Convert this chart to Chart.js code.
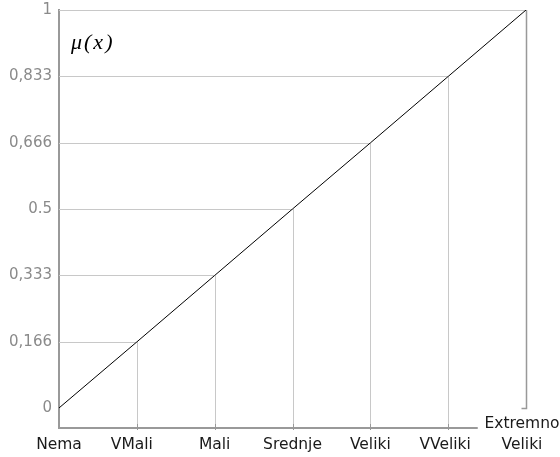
<!DOCTYPE html>
<html>
<head>
<meta charset="utf-8">
<script src="https://cdn.jsdelivr.net/npm/chart.js@4"></script>
<style>
html,body{margin:0;padding:0;background:#fff;}
#wrap{width:560px;height:457px;}
</style>
</head>
<body>
<div id="wrap"><canvas id="c" width="560" height="457"></canvas></div>
<script>
const categories = ["Nema", "VMali", "Mali", "Srednje", "Veliki", "VVeliki", ["Extremno", "Veliki"]];
const membership = [0, 0.166, 0.333, 0.5, 0.666, 0.833, 1];
const yTickValues = [0, 0.166, 0.333, 0.5, 0.666, 0.833, 1];
const yTickLabels = ["0", "0,166", "0,333", "0.5", "0,666", "0,833", "1"];
const yAxisTitle = "\u03BC(x)";

const points = membership.map((v, i) => ({x: i, y: v}));

const dropLines = {
  id: 'dropLines',
  beforeDatasetsDraw(chart) {
    const ctx = chart.ctx, xs = chart.scales.x, ys = chart.scales.y, ca = chart.chartArea;
    const last = membership.length - 1;
    ctx.save();
    ctx.strokeStyle = '#c8c8c8';
    ctx.lineWidth = 1;
    membership.forEach((v, i) => {
      if (i === 0) return;
      const px = Math.round(xs.getPixelForValue(i)), py = Math.round(ys.getPixelForValue(v)) + 0.5;
      ctx.beginPath(); ctx.moveTo(ca.left, py); ctx.lineTo(px, py); ctx.stroke();
    });
    membership.forEach((v, i) => {
      if (i === 0 || i === last) return;
      const px = Math.round(xs.getPixelForValue(i)) + 0.5, py = ys.getPixelForValue(v);
      ctx.strokeStyle = '#c8c8c8';
      ctx.beginPath(); ctx.moveTo(px, ca.bottom); ctx.lineTo(px, py); ctx.stroke();
      ctx.strokeStyle = '#999';
      ctx.beginPath(); ctx.moveTo(px, ca.bottom - 4); ctx.lineTo(px, ca.bottom + 2); ctx.stroke();
    });
    const lx = Math.round(xs.getPixelForValue(last)) + 0.5;
    const y0 = Math.round(ys.getPixelForValue(0)) + 0.5;
    ctx.strokeStyle = '#999';
    ctx.lineWidth = 1.5;
    ctx.beginPath(); ctx.moveTo(lx, ys.getPixelForValue(membership[last])); ctx.lineTo(lx, y0); ctx.lineTo(lx - 5, y0); ctx.stroke();
    ctx.lineWidth = 2;
    ctx.beginPath(); ctx.moveTo(ca.left, ca.bottom); ctx.lineTo(xs.getPixelForValue(5.38), ca.bottom); ctx.stroke();
    ctx.restore();
  },
  afterDraw(chart) {
    const ctx = chart.ctx, xs = chart.scales.x, ca = chart.chartArea;
    ctx.save();
    ctx.fillStyle = '#1a1a1a';
    ctx.font = '15.5px "DejaVu Sans"';
    ctx.textAlign = 'center';
    ctx.textBaseline = 'middle';
    categories.forEach((c, i) => {
      let px = xs.getPixelForValue(i);
      if (Array.isArray(c)) {
        px -= 4;
        ctx.fillText(c[0], px, ca.bottom - 4);
        ctx.fillText(c[1], px, ca.bottom + 17);
      } else {
        if (i === 1) px -= 5;
        if (i === 5) px -= 3;
        ctx.fillText(c, px, ca.bottom + 17);
      }
    });
    ctx.fillStyle = '#000';
    ctx.font = 'italic 22px "Liberation Serif"';
    ctx.textAlign = 'left';
    try { ctx.letterSpacing = '2px'; } catch (e) {}
    ctx.fillText(yAxisTitle, ca.left + 12, 43);
    ctx.restore();
  }
};

new Chart(document.getElementById('c'), {
  type: 'scatter',
  data: {
    datasets: [{
      data: points,
      showLine: true,
      borderColor: '#000',
      borderWidth: 1,
      pointRadius: 0,
      pointHoverRadius: 0,
      tension: 0
    }]
  },
  options: {
    responsive: false,
    animation: false,
    events: [],
    layout: {padding: {top: 10, right: 34, bottom: 29, left: 0}},
    plugins: {legend: {display: false}, tooltip: {enabled: false}},
    scales: {
      x: {
        type: 'linear', min: 0, max: categories.length - 1,
        display: false
      },
      y: {
        type: 'linear', min: -0.0503, max: 1,
        afterBuildTicks(scale) { scale.ticks = yTickValues.map(v => ({value: v})); },
        afterFit(scale) { scale.width = 59; scale.paddingTop = 0; scale.paddingBottom = 0; },
        grid: {display: false, drawTicks: false},
        border: {display: true, color: '#999', width: 2},
        ticks: {
          padding: 7,
          color: '#8a8a8a',
          font: {family: 'DejaVu Sans', size: 15, lineHeight: 1.0},
          callback: (v, i) => yTickLabels[i]
        }
      }
    }
  },
  plugins: [dropLines]
});
</script>
</body>
</html>
